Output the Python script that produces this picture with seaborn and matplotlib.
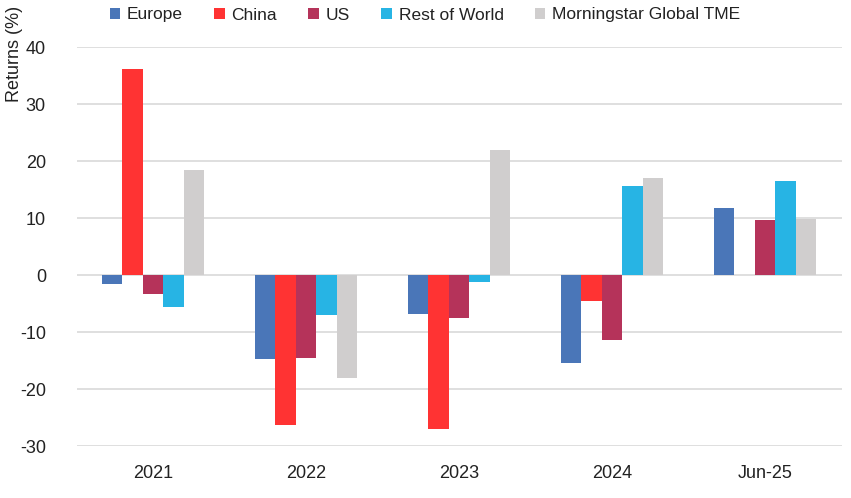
import matplotlib
matplotlib.use("Agg")
import matplotlib.pyplot as plt
import seaborn as sns
import numpy as np
import pandas as pd

categories = ["2021", "2022", "2023", "2024", "Jun-25"]
series = ["Europe", "China", "US", "Rest of World", "Morningstar Global TME"]
europe = [-1.5, -14.8, -6.8, -15.5, 11.7]
china = [36.1, -26.3, -27.1, -4.6, np.nan]
us = [-3.4, -14.5, -7.6, -11.4, 9.6]
rest_of_world = [-5.7, -7.1, -1.3, 15.7, 16.5]
tme = [18.4, -18.0, 22.0, 17.1, 9.9]
colors = ["#4a76b8", "#ff3333", "#b5335a", "#27b4e4", "#d0cece"]
yticks = [-30, -20, -10, 0, 10, 20, 30, 40]

values = [europe, china, us, rest_of_world, tme]
rows = []
for s, vals in zip(series, values):
    for c, v in zip(categories, vals):
        rows.append({"Period": c, "Series": s, "Return": v})
df = pd.DataFrame(rows)

sns.set_theme(style="white")
plt.rcParams["font.family"] = ["Liberation Sans", "DejaVu Sans"]

fig = plt.figure(figsize=(8.51, 4.98), dpi=100)
ax = fig.add_axes([76.5 / 851, 1 - 446 / 498, 765 / 851, 399 / 498])

sns.barplot(data=df, x="Period", y="Return", hue="Series", order=categories,
            hue_order=series, palette=colors, saturation=1, width=0.67,
            linewidth=0, errorbar=None, ax=ax, legend=True)

ax.set_ylim(-30, 40)
ax.set_yticks(yticks)
ax.set_yticklabels([str(t) for t in yticks], fontsize=13, color="#222222")
ax.tick_params(axis="x", labelsize=13, colors="#222222", length=0, pad=14)
ax.tick_params(axis="y", length=0, pad=22)
ax.set_xlabel("")
ax.set_ylabel("")
ax.yaxis.grid(True, color="#d9d9d9", linewidth=1.2)
ax.set_axisbelow(True)
for sp in ax.spines.values():
    sp.set_visible(False)

handles, labels = ax.get_legend_handles_labels()
ax.get_legend().remove()
fig.legend(handles, labels, loc="center", bbox_to_anchor=(425 / 851, 1 - 15 / 498),
           ncol=5, frameon=False, fontsize=12.5, handlelength=0.6, handleheight=0.6,
           handletextpad=0.4, columnspacing=1.8, labelcolor="#222222")

fig.text(15 / 851, 1 - 6 / 498, "Returns (%)", rotation=90, va="top", ha="center",
         fontsize=13, color="#222222")

fig.savefig("out.png", dpi=100)
